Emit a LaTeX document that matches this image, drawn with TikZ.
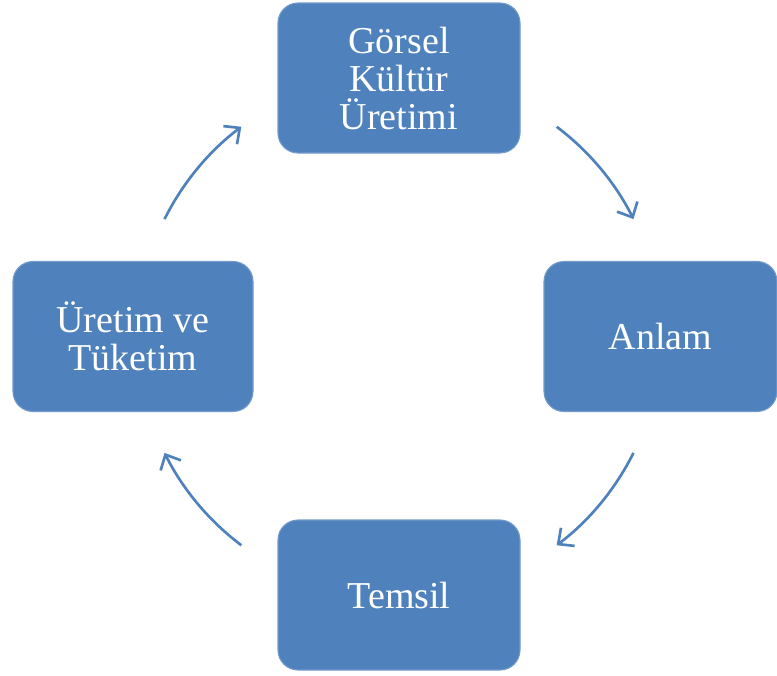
\documentclass[tikz,border=0pt]{standalone}
\usepackage{fontspec}
\setmainfont{Liberation Serif}
\usepackage{tikz}
\usetikzlibrary{arrows.meta}
\definecolor{boxblue}{RGB}{79,129,189}

\begin{document}
\begin{tikzpicture}[x = 0.75pt, y = -0.75pt,
                box/.style = {draw = boxblue!80!white, line width = 0.8pt, fill = boxblue,
                rounded corners = 15pt, text = white, align = center,
                font = \fontsize{28.5}{28.5}\selectfont, inner sep = 0pt},
                cyc/.style = {boxblue, line width = 2pt,
                -{Straight Barb[length = 9pt, width = 17pt, line width = 2pt]}}]
                \useasboundingbox (0,0) rectangle (777,675);

                \node [box, minimum width = 181.5pt, minimum height = 112.5pt]
                (gorsel) at (399,78) {Görsel\\Kültür\\Üretimi};
                \node [box, minimum width = 174.75pt, minimum height = 112.5pt]
                (anlam) at (660.5,336.5) {Anlam};
                \node [box, minimum width = 181.5pt, minimum height = 112.5pt]
                (temsil) at (399,595) {Temsil};
                \node [box, minimum width = 180pt, minimum height = 112.5pt]
                (uretim) at (133,336.5) {Üretim ve\\Tüketim};

                \coordinate (merkez) at (399,336);

                % cycle arrows
                \draw [cyc] ([shift = {(53:196.5pt)}] merkez) arc [start angle = 53,
                end angle = 26.5, radius = 196.5pt];
                \draw [cyc] ([shift = {(-26.5:196.5pt)}] merkez) arc [start angle = -26.5,
                end angle = -53, radius = 196.5pt];
                \draw [cyc] ([shift = {(-127:196.5pt)}] merkez) arc [start angle = -127,
                end angle = -153.5, radius = 196.5pt];
                \draw [cyc] ([shift = {(153.5:196.5pt)}] merkez) arc [start angle = 153.5,
                end angle = 127, radius = 196.5pt];

            \end{tikzpicture}
\end{document}
